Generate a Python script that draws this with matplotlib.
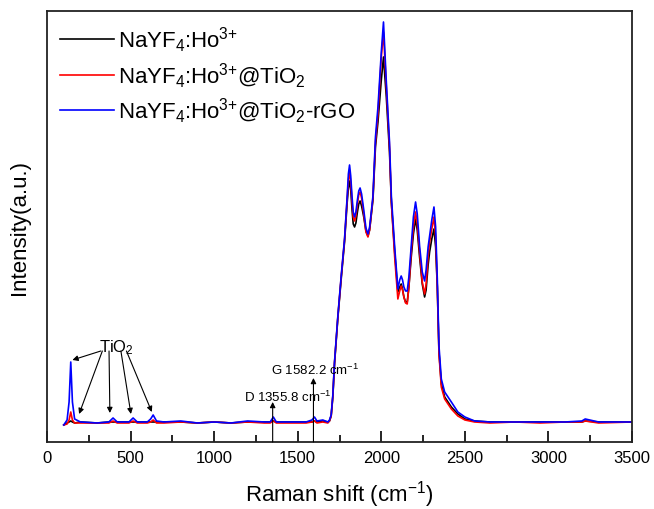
import matplotlib
matplotlib.use("Agg")
import matplotlib.pyplot as plt
from matplotlib.ticker import MultipleLocator

plt.rcParams['font.family'] = ['Liberation Sans', 'DejaVu Sans']
plt.rcParams['mathtext.default'] = 'regular'
plt.rcParams['mathtext.fontset'] = 'custom'
plt.rcParams['mathtext.rm'] = 'Liberation Sans'

# Raman shift sample points (cm^-1)
shift = [100, 120, 132, 142, 152, 165, 200, 300, 370, 395, 420, 490, 515, 540,
         600, 620, 635, 655, 700, 800, 900, 1000, 1100, 1200, 1300, 1335, 1354,
         1372, 1450, 1550, 1585, 1600, 1615, 1650, 1680, 1690, 1700, 1710, 1720,
         1740, 1760, 1780, 1796, 1803, 1810, 1817, 1825, 1832, 1840, 1848, 1857,
         1865, 1873, 1882, 1895, 1908, 1920, 1930, 1940, 1950, 1965, 1980, 2000,
         2013, 2030, 2049, 2060, 2080, 2099, 2110, 2119, 2127, 2135, 2145, 2155,
         2165, 2179, 2192, 2205, 2215, 2229, 2245, 2259, 2268, 2280, 2289, 2302,
         2315, 2325, 2335, 2345, 2359, 2379, 2419, 2458, 2500, 2558, 2650, 2800,
         2950, 3100, 3200, 3220, 3300, 3500]

nayf4 = [17, 19, 20, 21, 20, 19, 20, 19, 20, 20, 20, 20, 20, 20,
         20, 20, 20, 20, 20, 20, 19, 20, 19, 20, 20, 20, 21,
         20, 20, 20, 20, 21, 20, 21, 20, 21, 26, 45, 78,
         124, 163, 200, 240, 254, 261, 252, 232, 218, 215, 219, 230,
         238, 241, 236, 225, 211, 206, 212, 227, 242, 295, 320, 362,
         385, 345, 290, 240, 190, 150, 155, 158, 153, 145, 140, 140,
         155, 185, 208, 223, 212, 185, 158, 145, 152, 177, 190, 203,
         213, 195, 155, 90, 58, 45, 35, 28, 23, 21, 20, 20,
         20, 20, 20, 21, 20, 20]

nayf4_tio2 = [17, 18, 22, 30, 22, 19, 19, 19, 19, 21, 19, 19, 21, 19,
              19, 20, 22, 19, 19, 20, 19, 20, 19, 20, 19, 19, 21,
              19, 19, 19, 20, 21, 19, 20, 19, 21, 26, 46, 79,
              125, 165, 202, 244, 262, 270, 260, 240, 225, 221, 226, 238,
              247, 250, 244, 228, 210, 205, 212, 228, 244, 300, 328, 385,
              410, 355, 295, 240, 185, 143, 151, 156, 152, 145, 139, 138,
              155, 190, 215, 230, 218, 190, 160, 148, 158, 186, 200, 213,
              225, 205, 155, 88, 55, 43, 33, 26, 22, 20, 19, 20,
              19, 20, 20, 21, 19, 20]

nayf4_tio2_rgo = [17, 22, 40, 80, 40, 23, 20, 19, 20, 24, 20, 20, 24, 20,
                  20, 23, 27, 21, 20, 21, 19, 20, 19, 21, 20, 20, 25,
                  20, 20, 20, 22, 25, 21, 22, 20, 22, 27, 47, 80,
                  126, 166, 203, 246, 268, 277, 266, 245, 230, 225, 230, 242,
                  251, 254, 248, 232, 214, 208, 215, 230, 246, 305, 335, 390,
                  420, 360, 300, 246, 195, 153, 162, 166, 162, 155, 151, 151,
                  165, 196, 225, 240, 228, 196, 170, 161, 172, 195, 206, 222,
                  235, 215, 163, 96, 63, 50, 40, 30, 25, 21, 20, 20,
                  20, 20, 21, 23, 20, 20]

labels = [r'NaYF$_4$:Ho$^{3{+}}$', r'NaYF$_4$:Ho$^{3{+}}$@TiO$_2$',
          r'NaYF$_4$:Ho$^{3{+}}$@TiO$_2$-rGO']
colors = ['black', 'red', 'blue']

fig = plt.figure(figsize=(6.54, 5.10), dpi=100)
ax = fig.add_axes([0.0719, 0.1314, 0.8945, 0.8451])

for ys, lab, c in zip([nayf4, nayf4_tio2, nayf4_tio2_rgo], labels, colors):
    ax.plot(shift, ys, color=c, lw=1.2, label=lab)

ax.set_xlim(0, 3500)
ax.set_ylim(0, 431)
ax.xaxis.set_major_locator(MultipleLocator(500))
ax.xaxis.set_minor_locator(MultipleLocator(250))
ax.tick_params(axis='x', which='major', direction='in', length=8, width=1.2,
               labelsize=12, top=False, pad=6)
ax.tick_params(axis='x', which='minor', direction='in', length=5, width=1.2, top=False)
ax.set_yticks([])
for s in ax.spines.values():
    s.set_linewidth(1.3)
    s.set_color('#222222')

ax.set_xlabel(r'Raman shift (cm$^{-1}$)', fontsize=16, labelpad=9)
ax.set_ylabel('Intensity(a.u.)', fontsize=16, labelpad=12)

leg = ax.legend(loc='upper left', frameon=False, fontsize=16, handlelength=2.4,
                handletextpad=0.2, labelspacing=0.3, borderaxespad=0.2,
                bbox_to_anchor=(0.0, 1.0))

# TiO2 annotations
ax.text(415, 95, r'TiO$_2$', fontsize=12, ha='center', va='center')
starts = [(322, 91), (331, 91), (371, 91), (442, 91), (475, 91)]
ends = [(152, 82), (192, 28), (376, 29), (502, 28), (627, 30)]
for (sx, sy), (ex, ey) in zip(starts, ends):
    ax.annotate('', xy=(ex, ey), xytext=(sx, sy),
                arrowprops=dict(arrowstyle='-|>', color='black', lw=0.8,
                                mutation_scale=8, shrinkA=0, shrinkB=0))

# D and G bands
ax.annotate('', xy=(1350, 40), xytext=(1350, 0),
            arrowprops=dict(arrowstyle='-|>', color='black', lw=0.8,
                            mutation_scale=8, shrinkA=0, shrinkB=0))
ax.annotate('', xy=(1594, 64), xytext=(1594, 0),
            arrowprops=dict(arrowstyle='-|>', color='black', lw=0.8,
                            mutation_scale=8, shrinkA=0, shrinkB=0))
ax.text(1180, 46, r'D 1355.8 cm$^{-1}$', fontsize=9.5, ha='left', va='center')
ax.text(1342, 73, r'G 1582.2 cm$^{-1}$', fontsize=9.5, ha='left', va='center')

fig.savefig('out.png', dpi=100)
